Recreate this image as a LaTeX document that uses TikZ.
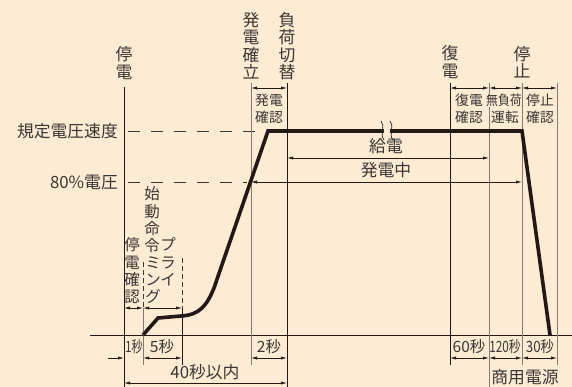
\documentclass[tikz,border=0pt]{standalone}
\usepackage{fontspec}
\setmainfont{Noto Sans CJK JP}
\usetikzlibrary{arrows.meta,positioning}
\definecolor{paper}{HTML}{FDEBD3}
\definecolor{ink}{HTML}{231815}
\definecolor{txt}{HTML}{3A3634}
\definecolor{rule}{HTML}{857A72}
\tikzset{
	darkline/.style={ink,line width=0.9pt},
	greyline/.style={rule,line width=0.9pt},
	sepline/.style={txt,line width=0.7pt,dash pattern=on 5pt off 3pt},
	levelline/.style={txt,line width=0.8pt,dash pattern=on 12pt off 11pt},
	dimarrow/.style={ink,line width=0.7pt,{Latex[length=6pt,width=3.2pt]}-{Latex[length=6pt,width=3.2pt]}},
	onearrow/.style={ink,line width=0.7pt,-{Latex[length=6pt,width=3.2pt]}},
	bigtext/.style={txt,inner sep=0pt,font=\fontsize{16.8}{17.5}\selectfont,align=center},
	midtext/.style={txt,inner sep=0pt,font=\fontsize{15.5}{17.3}\selectfont,align=center},
	smalltext/.style={txt,inner sep=0.6pt,fill=paper,font=\fontsize{13.8}{15}\selectfont},
	secs/.style={txt,inner sep=0.5pt,font=\fontsize{15.5}{16}\selectfont},
	speedcurve/.style={ink,line width=3.6pt,line join=miter}
}

\begin{document}
\begin{tikzpicture}[x=1pt,y=-1pt]
	\fill[paper] (0,0) rectangle (572,387);
	\useasboundingbox (0,0) rectangle (572,387);

	\node[bigtext,anchor=east]	(rated)		at (118,131)	{規定電圧速度};
	\node[bigtext,anchor=east]	(eighty)	at (118,182)	{80\%電圧};
	\draw[levelline]	(128,131) -- (265,131);
	\draw[levelline]	(128,182) -- (247,182);

	\draw[darkline]		(90,335) -- (572,335);

	\node[bigtext]	(outage)	at (124,63)		{停\\電};
	\node[bigtext]	(genok)		at (251,46)		{発\\電\\確\\立};
	\node[bigtext]	(switch)	at (287,46)		{負\\荷\\切\\替};
	\node[bigtext]	(restore)	at (450,62)		{復\\電};
	\node[bigtext]	(stop)		at (522,62)		{停\\止};

	\draw[darkline]		(124,87) -- (124,387);
	\draw[greyline]		(143,308) -- (143,365);
	\draw[darkline]		(182,308) -- (182,365);
	\draw[greyline]		(251,83) -- (251,365);
	\draw[darkline]		(287,83) -- (287,387);
	\draw[darkline]		(450,83) -- (450,365);
	\draw[greyline]		(489,83) -- (489,387);
	\draw[greyline]		(522,83) -- (522,365);
	\draw[greyline]		(557,83) -- (557,365);
	\draw[sepline]		(143,262) -- (143,308);
	\draw[sepline]		(182,258) -- (182,308);

	\draw[dimarrow]		(251,88) -- (287,88);
	\draw[dimarrow]		(450,88) -- (489,88);
	\draw[dimarrow]		(489,88) -- (522,88);
	\draw[dimarrow]		(522,88) -- (557,88);

	\node[smalltext]	(genchk1)	at (269,100)	{発電};
	\node[smalltext]	(genchk2)	at (269,117)	{確認};
	\node[smalltext]	(reschk1)	at (469,100)	{復電};
	\node[smalltext]	(reschk2)	at (469,117)	{確認};
	\node[smalltext]	(noload1)	at (504,100)	{\scalebox{0.86}[1]{無負荷}};
	\node[smalltext]	(noload2)	at (505,117)	{運転};
	\node[smalltext]	(stopchk1)	at (540,100)	{停止};
	\node[smalltext]	(stopchk2)	at (540,117)	{確認};

	\draw[dimarrow]		(287,158) -- (489,158);
	\node[bigtext]		(feed)		at (386,146)	{給電};
	\draw[dimarrow]		(251,182) -- (522,182);
	\node[bigtext]		(running)	at (386,170)	{発電中};

	\node[midtext]	(start)		at (152,220)	{始\\動\\命\\令};
	\node[midtext]	(outchk)	at (132,271)	{停\\電\\確\\認};
	\node[midtext]	(prime1)	at (168,262)	{プ\\ラ\\イ};
	\node[midtext]	(prime2)	at (153,280)	{ミ\\ン\\グ};
	\draw[dimarrow]		(124,308) -- (143,308);
	\draw[dimarrow]		(143,308) -- (182,308);

	\draw[speedcurve]	(143,335) -- (158,318) -- (181,316) .. controls (200,315) and (207,305) .. (214,288) -- (268,131) -- (522,131) -- (550,335);
	\fill[paper]		(384,127) rectangle (390,135);
	\draw[ink,line width=0.7pt]	(381,121) .. controls (386,126) and (379,134) .. (384,140);
	\draw[ink,line width=0.7pt]	(390,121) .. controls (395,126) and (388,134) .. (393,140);

	\node[secs]		(s1)	at (134,347)	{\scalebox{0.72}[1]{1秒}};
	\node[secs]		(s5)	at (162,347)	{5秒};
	\node[secs]		(s2)	at (269,347)	{2秒};
	\node[secs]		(s60)	at (469,347)	{60秒};
	\node[secs]		(s120)	at (505,347)	{\scalebox{0.76}[1]{120秒}};
	\node[secs]		(s30)	at (540,347)	{\scalebox{0.86}[1]{30秒}};
	\draw[onearrow]		(108,358) -- (124,358);
	\draw[dimarrow]		(143,358) -- (182,358);
	\draw[dimarrow]		(251,358) -- (287,358);
	\draw[dimarrow]		(450,358) -- (489,358);
	\draw[dimarrow]		(489,358) -- (522,358);
	\draw[dimarrow]		(522,358) -- (557,358);

	\node[bigtext]		(limit)	at (205,372)	{40秒以内};
	\draw[dimarrow]		(124,383) -- (287,383);
	\node[bigtext]		(mains)	at (525,377)	{商用電源};
\end{tikzpicture}
\end{document}
